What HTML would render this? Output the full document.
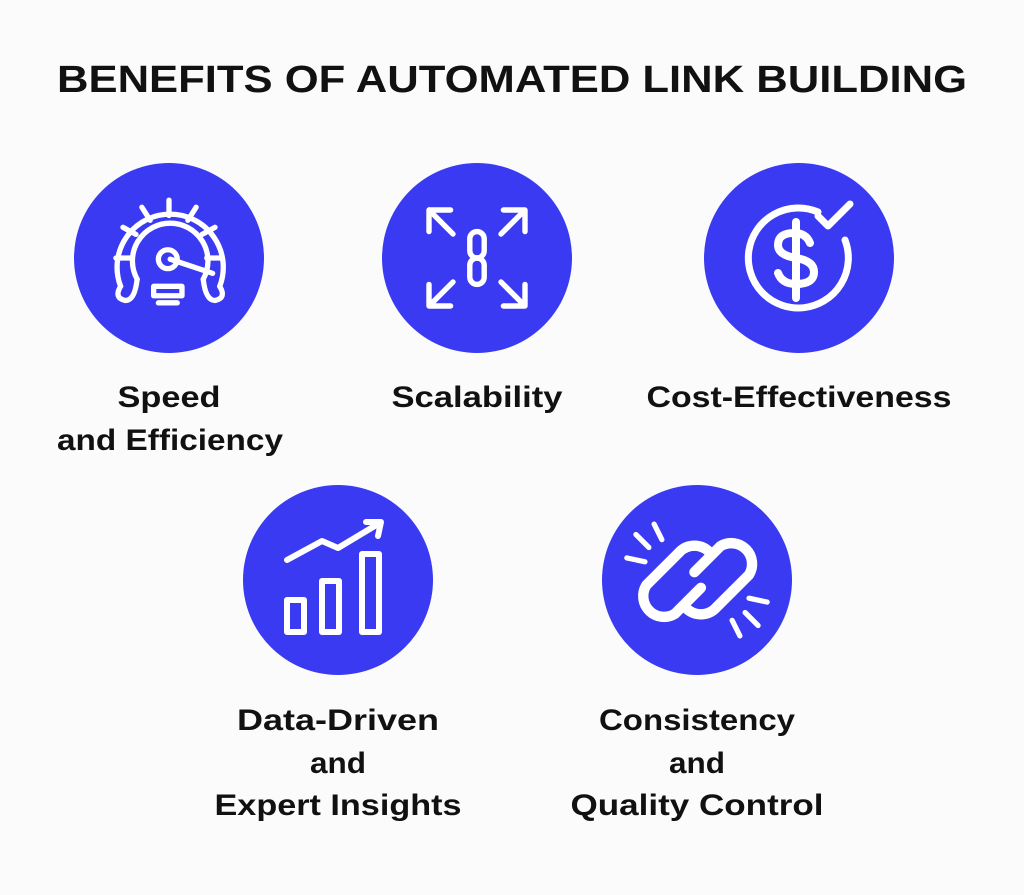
<!DOCTYPE html>
<html><head><style>html,body{margin:0;padding:0;background:#fbfbfb}svg{display:block}text{font-family:"Liberation Sans",sans-serif;font-weight:bold;fill:#111;text-anchor:middle}</style></head>
<body>
<svg width="1024" height="895" viewBox="0 0 1024 895" xmlns="http://www.w3.org/2000/svg">
<rect width="1024" height="895" fill="#fbfbfb"/>
<text x="512" y="92" font-size="38" textLength="910" lengthAdjust="spacingAndGlyphs">BENEFITS OF AUTOMATED LINK BUILDING</text>
<g fill="#3a3af2">
<circle cx="169" cy="258" r="95"/><circle cx="477" cy="258" r="95"/><circle cx="799" cy="258" r="95"/>
<circle cx="338" cy="580" r="95"/><circle cx="697" cy="580" r="95"/>
</g>
<g fill="none" stroke="#fff" stroke-width="5" stroke-linecap="round" stroke-linejoin="round">
<!-- speedometer -->
<g transform="translate(169 258) scale(1.18) translate(-169 -258)" stroke-width="4.5">
<path d="M128 282 A45 45 0 1 1 212 282"/>
<path d="M142 276 A32 32 0 1 1 198 276"/>
<path d="M128 282 q-6 10 4 12 q8 0 10 -18"/><path d="M212 282 q6 10 -4 12 q-8 0 -10 -18"/>
<line x1="124" y1="258" x2="137" y2="258"/><line x1="130" y1="232" x2="141" y2="238"/><line x1="146" y1="215" x2="153" y2="226"/>
<line x1="169" y1="209" x2="169" y2="222"/><line x1="192" y1="215" x2="185" y2="226"/><line x1="208" y1="232" x2="197" y2="238"/><line x1="214" y1="258" x2="201" y2="258"/>
<circle cx="168" cy="259" r="8"/><path d="M170 259 L206 271"/>
<rect x="156" y="282" width="24" height="8"/><line x1="160" y1="296" x2="176" y2="296"/>
</g>
<!-- scalability -->
<g transform="translate(477 258) scale(1.2) translate(-477 -258)" stroke-width="4.5">
<path d="M437 218 h18 M437 218 v18 M437 218 l20 20"/>
<path d="M517 218 h-18 M517 218 v18 M517 218 l-20 20"/>
<path d="M437 298 h18 M437 298 v-18 M437 298 l20 -20"/>
<path d="M517 298 h-18 M517 298 v-18 M517 298 l-20 -20"/>
<rect x="471" y="236" width="12" height="22" rx="6"/><rect x="471" y="258" width="12" height="22" rx="6"/>
</g>
<!-- cost -->
<path d="M845 240 A50 50 0 1 1 818 212" stroke-width="7"/>
<path d="M818 216 l10 10 l22 -22" stroke-width="7"/>
<path d="M810 243 q-4 -10 -16 -10 q-16 0 -16 12 q0 10 18 13 q18 3 18 14 q0 12 -18 12 q-14 0 -18 -11" stroke-width="8"/>
<line x1="796" y1="222" x2="796" y2="298" stroke-width="8"/>
<!-- chart -->
<path d="M287 560 L322 541 L338 548 L378 524" stroke-width="6"/><path d="M366 522 L381 522 L378 536" stroke-width="6"/>
<rect x="287" y="600" width="17" height="32" stroke-width="6"/><rect x="322" y="581" width="17" height="51" stroke-width="6"/><rect x="362" y="554" width="17" height="78" stroke-width="6"/>
<!-- broken link -->
<g transform="translate(697 580) scale(1.3) translate(-697 -580)">
<path d="M700 586 L680 606 a16 16 0 0 1 -22 -22 l26 -26 a16 16 0 0 1 22 0" stroke-width="8"/>
<path d="M695 574 L715 554 a16 16 0 0 1 22 22 l-26 26 a16 16 0 0 1 -22 0" stroke-width="8"/>
<line x1="664" y1="537" x2="670" y2="549" stroke-width="4"/><line x1="643" y1="563" x2="657" y2="566" stroke-width="4"/><line x1="650" y1="545" x2="660" y2="555" stroke-width="4"/>
<line x1="730" y1="623" x2="724" y2="611" stroke-width="4"/><line x1="751" y1="597" x2="737" y2="594" stroke-width="4"/><line x1="744" y1="615" x2="734" y2="605" stroke-width="4"/>
</g>
</g>
<g font-size="30">
<text x="169" y="407" textLength="103" lengthAdjust="spacingAndGlyphs">Speed</text>
<text x="170" y="450" textLength="226" lengthAdjust="spacingAndGlyphs">and Efficiency</text>
<text x="477" y="407" textLength="171" lengthAdjust="spacingAndGlyphs">Scalability</text>
<text x="799" y="407" textLength="305" lengthAdjust="spacingAndGlyphs">Cost-Effectiveness</text>
<text x="338" y="730" textLength="202" lengthAdjust="spacingAndGlyphs">Data-Driven</text>
<text x="338" y="773" textLength="56" lengthAdjust="spacingAndGlyphs">and</text>
<text x="338" y="815" textLength="247" lengthAdjust="spacingAndGlyphs">Expert Insights</text>
<text x="697" y="730" textLength="196" lengthAdjust="spacingAndGlyphs">Consistency</text>
<text x="697" y="773" textLength="56" lengthAdjust="spacingAndGlyphs">and</text>
<text x="697" y="815" textLength="253" lengthAdjust="spacingAndGlyphs">Quality Control</text>
</g>
</svg>
</body></html>
